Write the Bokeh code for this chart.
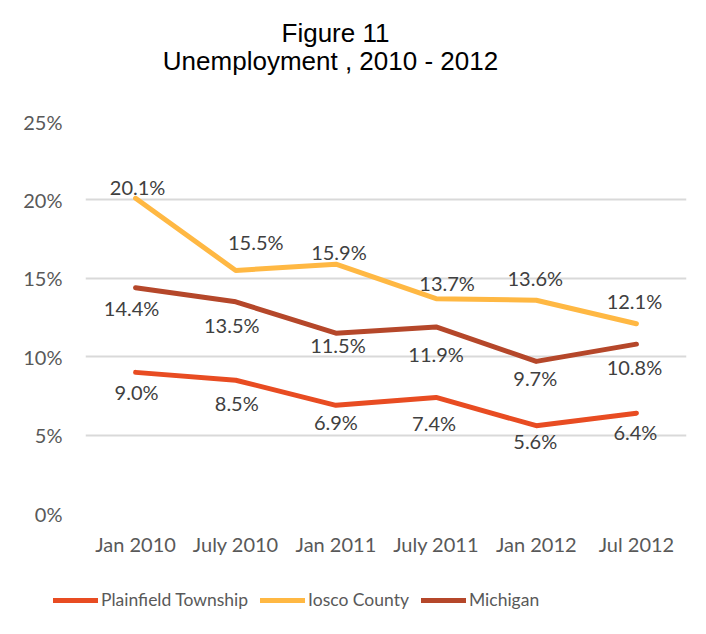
from bokeh.plotting import figure
from bokeh.models import (Range1d, FixedTicker, Label, Legend, LegendItem,
                          ColumnDataSource)
from bokeh.core.properties import value
from bokeh.embed import file_html
from bokeh.resources import INLINE

# ---- data ----
categories = ["Jan 2010", "July 2010", "Jan 2011", "July 2011", "Jan 2012", "Jul 2012"]
plainfield = [9.0, 8.5, 6.9, 7.4, 5.6, 6.4]
iosco = [20.1, 15.5, 15.9, 13.7, 13.6, 12.1]
michigan = [14.4, 13.5, 11.5, 11.9, 9.7, 10.8]
y_ticks = [0, 5, 10, 15, 20, 25]
series_names = ["Plainfield Township", "Iosco County", "Michigan"]

# ---- label placement (screen px offsets from each point; styling only) ----
iosco_dx = [2, 20, 3, 11, -1, -2]
iosco_dy = [-11, -28, -12, -16, -22, -23]
michigan_dx = [-4, -4, 2, 0, -1, -2]
michigan_dy = [20, 23, 12, 27, 17, 23]
plainfield_dx = [1, 1, 0, -2, -1, -1]
plainfield_dy = [20, 23, 17, 26, 15, 19]

C_PLAIN = "#E84C22"
C_IOSCO = "#FFB843"
C_MICH = "#B5472A"
FONT = "Lato"
W = 706

xs = list(range(len(categories)))
series = [(series_names[0], plainfield, C_PLAIN),
          (series_names[1], iosco, C_IOSCO),
          (series_names[2], michigan, C_MICH)]

def blank_fig(h, y_range=(0, 1)):
    f = figure(width=W, height=h, output_backend="svg", toolbar_location=None,
               x_axis_location=None, y_axis_location=None,
               x_range=Range1d(0, 1), y_range=Range1d(*y_range),
               min_border_left=0, min_border_right=0, min_border_top=0,
               min_border_bottom=0)
    f.outline_line_color = None
    f.grid.visible = False
    f.background_fill_color = "white"
    f.border_fill_color = "white"
    return f

# ---------------- title ----------------
t = blank_fig(100)
t.add_layout(Label(x=335, y=68, x_units="screen", y_units="screen",
                   text="Figure 11", text_align="center", text_baseline="alphabetic",
                   text_font="Liberation Sans", text_font_size="26px",
                   text_color="#000000"))
t.add_layout(Label(x=330, y=40, x_units="screen", y_units="screen",
                   text="Unemployment , 2010 - 2012", text_align="center",
                   text_baseline="alphabetic", text_font="Liberation Sans",
                   text_font_size="26px", text_color="#000000"))

# ---------------- main chart ----------------
p = figure(width=W, height=480, output_backend="svg", toolbar_location=None,
           x_range=Range1d(-0.5, len(categories) - 0.5), y_range=Range1d(0, 25),
           min_border_left=85, min_border_right=20, min_border_top=21,
           min_border_bottom=67)
p.outline_line_color = None
p.background_fill_color = "white"
p.border_fill_color = "white"

p.yaxis.ticker = FixedTicker(ticks=y_ticks)
p.yaxis.major_label_overrides = {t_: f"{t_}%" for t_ in y_ticks}
p.yaxis.axis_line_color = None
p.yaxis.major_tick_line_color = None
p.yaxis.minor_tick_line_color = None
p.yaxis.major_label_standoff = 17
p.yaxis.major_label_text_font = FONT
p.yaxis.major_label_text_font_size = "20px"
p.yaxis.major_label_text_color = "#595959"

p.xaxis.ticker = FixedTicker(ticks=xs)
p.xaxis.major_label_overrides = {i: c for i, c in enumerate(categories)}
p.xaxis.axis_line_color = None
p.xaxis.major_tick_line_color = None
p.xaxis.minor_tick_line_color = None
p.xaxis.major_label_standoff = 12
p.xaxis.major_label_text_font = FONT
p.xaxis.major_label_text_font_size = "20px"
p.xaxis.major_label_text_color = "#595959"

p.xgrid.grid_line_color = None
p.ygrid.ticker = FixedTicker(ticks=y_ticks)
p.ygrid.grid_line_color = "#D9D9D9"
p.ygrid.grid_line_width = 2

for _, vals, col in series:
    p.line(xs, vals, line_color=col, line_width=5, line_join="round",
           line_cap="round")

def add_labels(vals, dx, dy):
    src = ColumnDataSource(dict(x=xs, y=vals, t=[f"{v:.1f}%" for v in vals],
                                dx=dx, dy=dy))
    p.text(x="x", y="y", text="t", x_offset="dx", y_offset="dy", source=src,
           text_align="center", text_baseline="middle",
           text_font=value(FONT), text_font_size="20px", text_color="#404040")

add_labels(iosco, iosco_dx, iosco_dy)
add_labels(michigan, michigan_dx, michigan_dy)
add_labels(plainfield, plainfield_dx, plainfield_dy)

# ---------------- legend (its own strip; the series lie outside its view) ----------------
lg = blank_fig(54, y_range=(-2, -1))
items = []
for name, vals, col in series:
    r = lg.line(xs, vals, line_color=col, line_width=5, line_cap="round")
    items.append(LegendItem(label=name, renderers=[r]))
legend = Legend(items=items, orientation="horizontal", location=(53, 24),
                padding=0, margin=0, spacing=12, glyph_width=45, glyph_height=20,
                label_height=20, label_standoff=3,
                label_text_font=FONT, label_text_font_size="17.5px",
                label_text_color="#595959", border_line_color=None,
                background_fill_alpha=0)
lg.add_layout(legend, "center")

open("out.html", "w").write(file_html([t, p, lg], INLINE))
